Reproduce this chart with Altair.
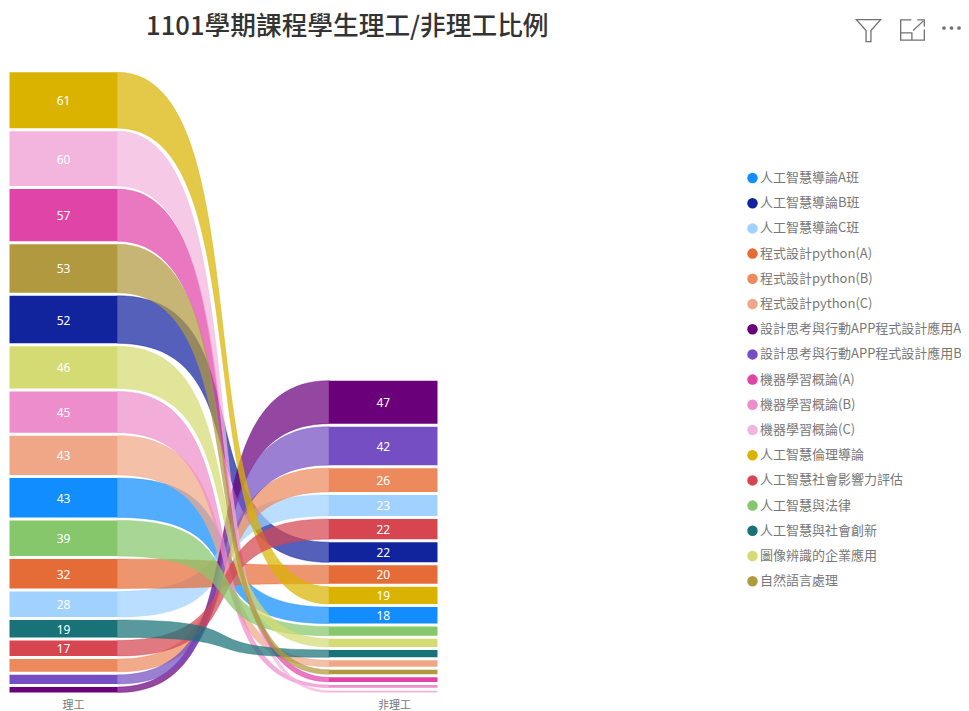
import altair as alt
import pandas as pd

chart_title = "1101學期課程學生理工/非理工比例"
courses = ["人工智慧導論A班", "人工智慧導論B班", "人工智慧導論C班", "程式設計python(A)", "程式設計python(B)",
           "程式設計python(C)", "設計思考與行動APP程式設計應用A", "設計思考與行動APP程式設計應用B",
           "機器學習概論(A)", "機器學習概論(B)", "機器學習概論(C)", "人工智慧倫理導論", "人工智慧社會影響力評估",
           "人工智慧與法律", "人工智慧與社會創新", "圖像辨識的企業應用", "自然語言處理"]
colors = ["#118DFF", "#12239E", "#A0D1FF", "#E66C37", "#EC8A5D", "#F0A787", "#6B007B", "#744EC2", "#E044A7",
          "#EE8DCB", "#F3B4DE", "#D9B300", "#D64550", "#87C76C", "#197278", "#D4DB73", "#B0993F"]
stem = [43, 52, 28, 32, 14, 43, 6, 10, 57, 45, 60, 61, 17, 39, 19, 46, 53]
non_stem = [18, 22, 23, 20, 26, 7, 47, 42, 5, 3, 2, 19, 22, 10, 8, 9, 5]

# layout in page pixels less the 8px margin
LEFT = (1.5, 109.5)
RIGHT = (321, 429.5)
GAP = 3.3
CURVE = 0.72
STEPS = 60
MIN_LABEL = 17


def stack(values):
    order = sorted(range(len(values)), key=lambda i: (values[i], i))
    pos, out = 0.0, {}
    for i in order:
        out[i] = (pos, pos + values[i])
        pos += values[i] + GAP
    return out


def bez(t, a, b, c, d):
    return a * (1 - t) ** 3 + 3 * b * (1 - t) ** 2 * t + 3 * c * (1 - t) * t ** 2 + d * t ** 3


ls, rs = stack(stem), stack(non_stem)
draw_order = list(range(len(courses)))

bars, ribbons = [], []
for i in draw_order:
    name = courses[i]
    bars.append(dict(course=name, x=LEFT[0], x2=LEFT[1], y=ls[i][0], y2=ls[i][1], value=stem[i]))
    bars.append(dict(course=name, x=RIGHT[0], x2=RIGHT[1], y=rs[i][0], y2=rs[i][1], value=non_stem[i]))
    x0, x1 = LEFT[1], RIGHT[0]
    w = x1 - x0
    for s in range(STEPS + 1):
        t = s / STEPS
        ribbons.append(dict(course=name, x=bez(t, x0, x0 + CURVE * w, x1 - CURVE * w, x1),
                            y=bez(t, ls[i][0], ls[i][0], rs[i][0], rs[i][0]),
                            y2=bez(t, ls[i][1], ls[i][1], rs[i][1], rs[i][1])))

bars_df = pd.DataFrame(bars)
bars_df["cx"] = (bars_df.x + bars_df.x2) / 2
bars_df["cy"] = (bars_df.y + bars_df.y2) / 2
rib_df = pd.DataFrame(ribbons)

xs = alt.Scale(domain=[0, 953], nice=False, zero=False)
ys = alt.Scale(domain=[-4.9, 715.3], nice=False, zero=False)
cs = alt.Scale(domain=courses, range=colors)
xaxis = alt.Axis(values=[65, 386], labelExpr="datum.value < 200 ? '理工' : '非理工'", domain=False, ticks=False,
                 grid=False, title=None, labelFont="Noto Sans CJK TC", labelFontSize=11, labelColor="#777777",
                 labelPadding=2, labelAngle=0)
legend = alt.Legend(title=None, orient="none", legendX=738, legendY=133.5, symbolType="circle", symbolSize=110,
                    labelFont="Noto Sans CJK TC", labelFontSize=13, labelColor="#777777", labelLimit=240,
                    labelOffset=1, rowPadding=11.2, symbolStrokeWidth=0, symbolOpacity=1, values=courses)

rib = alt.Chart(rib_df).mark_area(fillOpacity=0.72, strokeWidth=0.7, strokeOpacity=0.6).encode(
    x=alt.X("x:Q", scale=xs, axis=xaxis),
    y=alt.Y("y:Q", scale=ys, axis=None),
    y2="y2:Q",
    color=alt.Color("course:N", scale=cs, legend=legend),
    stroke=alt.Stroke("course:N", scale=cs, legend=None),
)
bar = alt.Chart(bars_df).mark_rect().encode(
    x=alt.X("x:Q", scale=xs), x2="x2:Q",
    y=alt.Y("y:Q", scale=ys), y2="y2:Q",
    color=alt.Color("course:N", scale=cs, legend=None),
)
lab = alt.Chart(bars_df[bars_df.value >= MIN_LABEL]).mark_text(
    color="white", font="Noto Sans", fontSize=12, baseline="middle", align="center", dy=1).encode(
    x=alt.X("cx:Q", scale=xs), y=alt.Y("cy:Q", scale=ys), text="value:Q")

heading = alt.Chart(pd.DataFrame({"t": [chart_title]})).mark_text(
    align="left", baseline="alphabetic", font="Noto Sans CJK TC", fontSize=25.7, fontWeight=500,
    color="#333333", clip=False).encode(x=alt.value(138), y=alt.value(-3), text="t:N")

GREY = "#707070"
funnel = alt.Chart(pd.DataFrame({"a": [0]})).mark_point(
    shape="M-1,-0.85 L1,-0.85 L0.2,0.05 L0.2,0.95 L-0.2,0.95 L-0.2,0.05 Z",
    size=590, filled=False, stroke=GREY, strokeWidth=1.3, opacity=1, clip=False).encode(
    x=alt.value(860.5), y=alt.value(-8))
expand = alt.Chart(pd.DataFrame({"a": [0]})).mark_point(
    shape="M-0.1,-0.85 L-1,-0.85 L-1,0.85 L1,0.85 L1,-0.05 M-1,0.25 L-0.05,0.25 L-0.05,0.85 "
          "M0.05,0.05 L0.9,-0.75 M0.4,-0.85 L1,-0.85 L1,-0.3",
    size=560, filled=False, stroke=GREY, strokeWidth=1.3, opacity=1, clip=False).encode(
    x=alt.value(904.5), y=alt.value(-8))
dots = alt.Chart(pd.DataFrame({"d": [936, 943.5, 951]})).mark_point(
    filled=True, size=14, color=GREY, opacity=1, clip=False).encode(
    x=alt.X("d:Q", scale=xs), y=alt.value(-10))

chart = alt.layer(rib, bar, lab, heading, funnel, expand, dots).properties(
    width=953, height=659,
    autosize=alt.AutoSizeParams(type="none"),
    padding={"left": 0, "top": 30, "right": 0, "bottom": 14},
    background="white",
).configure_view(stroke=None)

chart.save("out.html", embed_options={"renderer": "svg", "actions": False})
